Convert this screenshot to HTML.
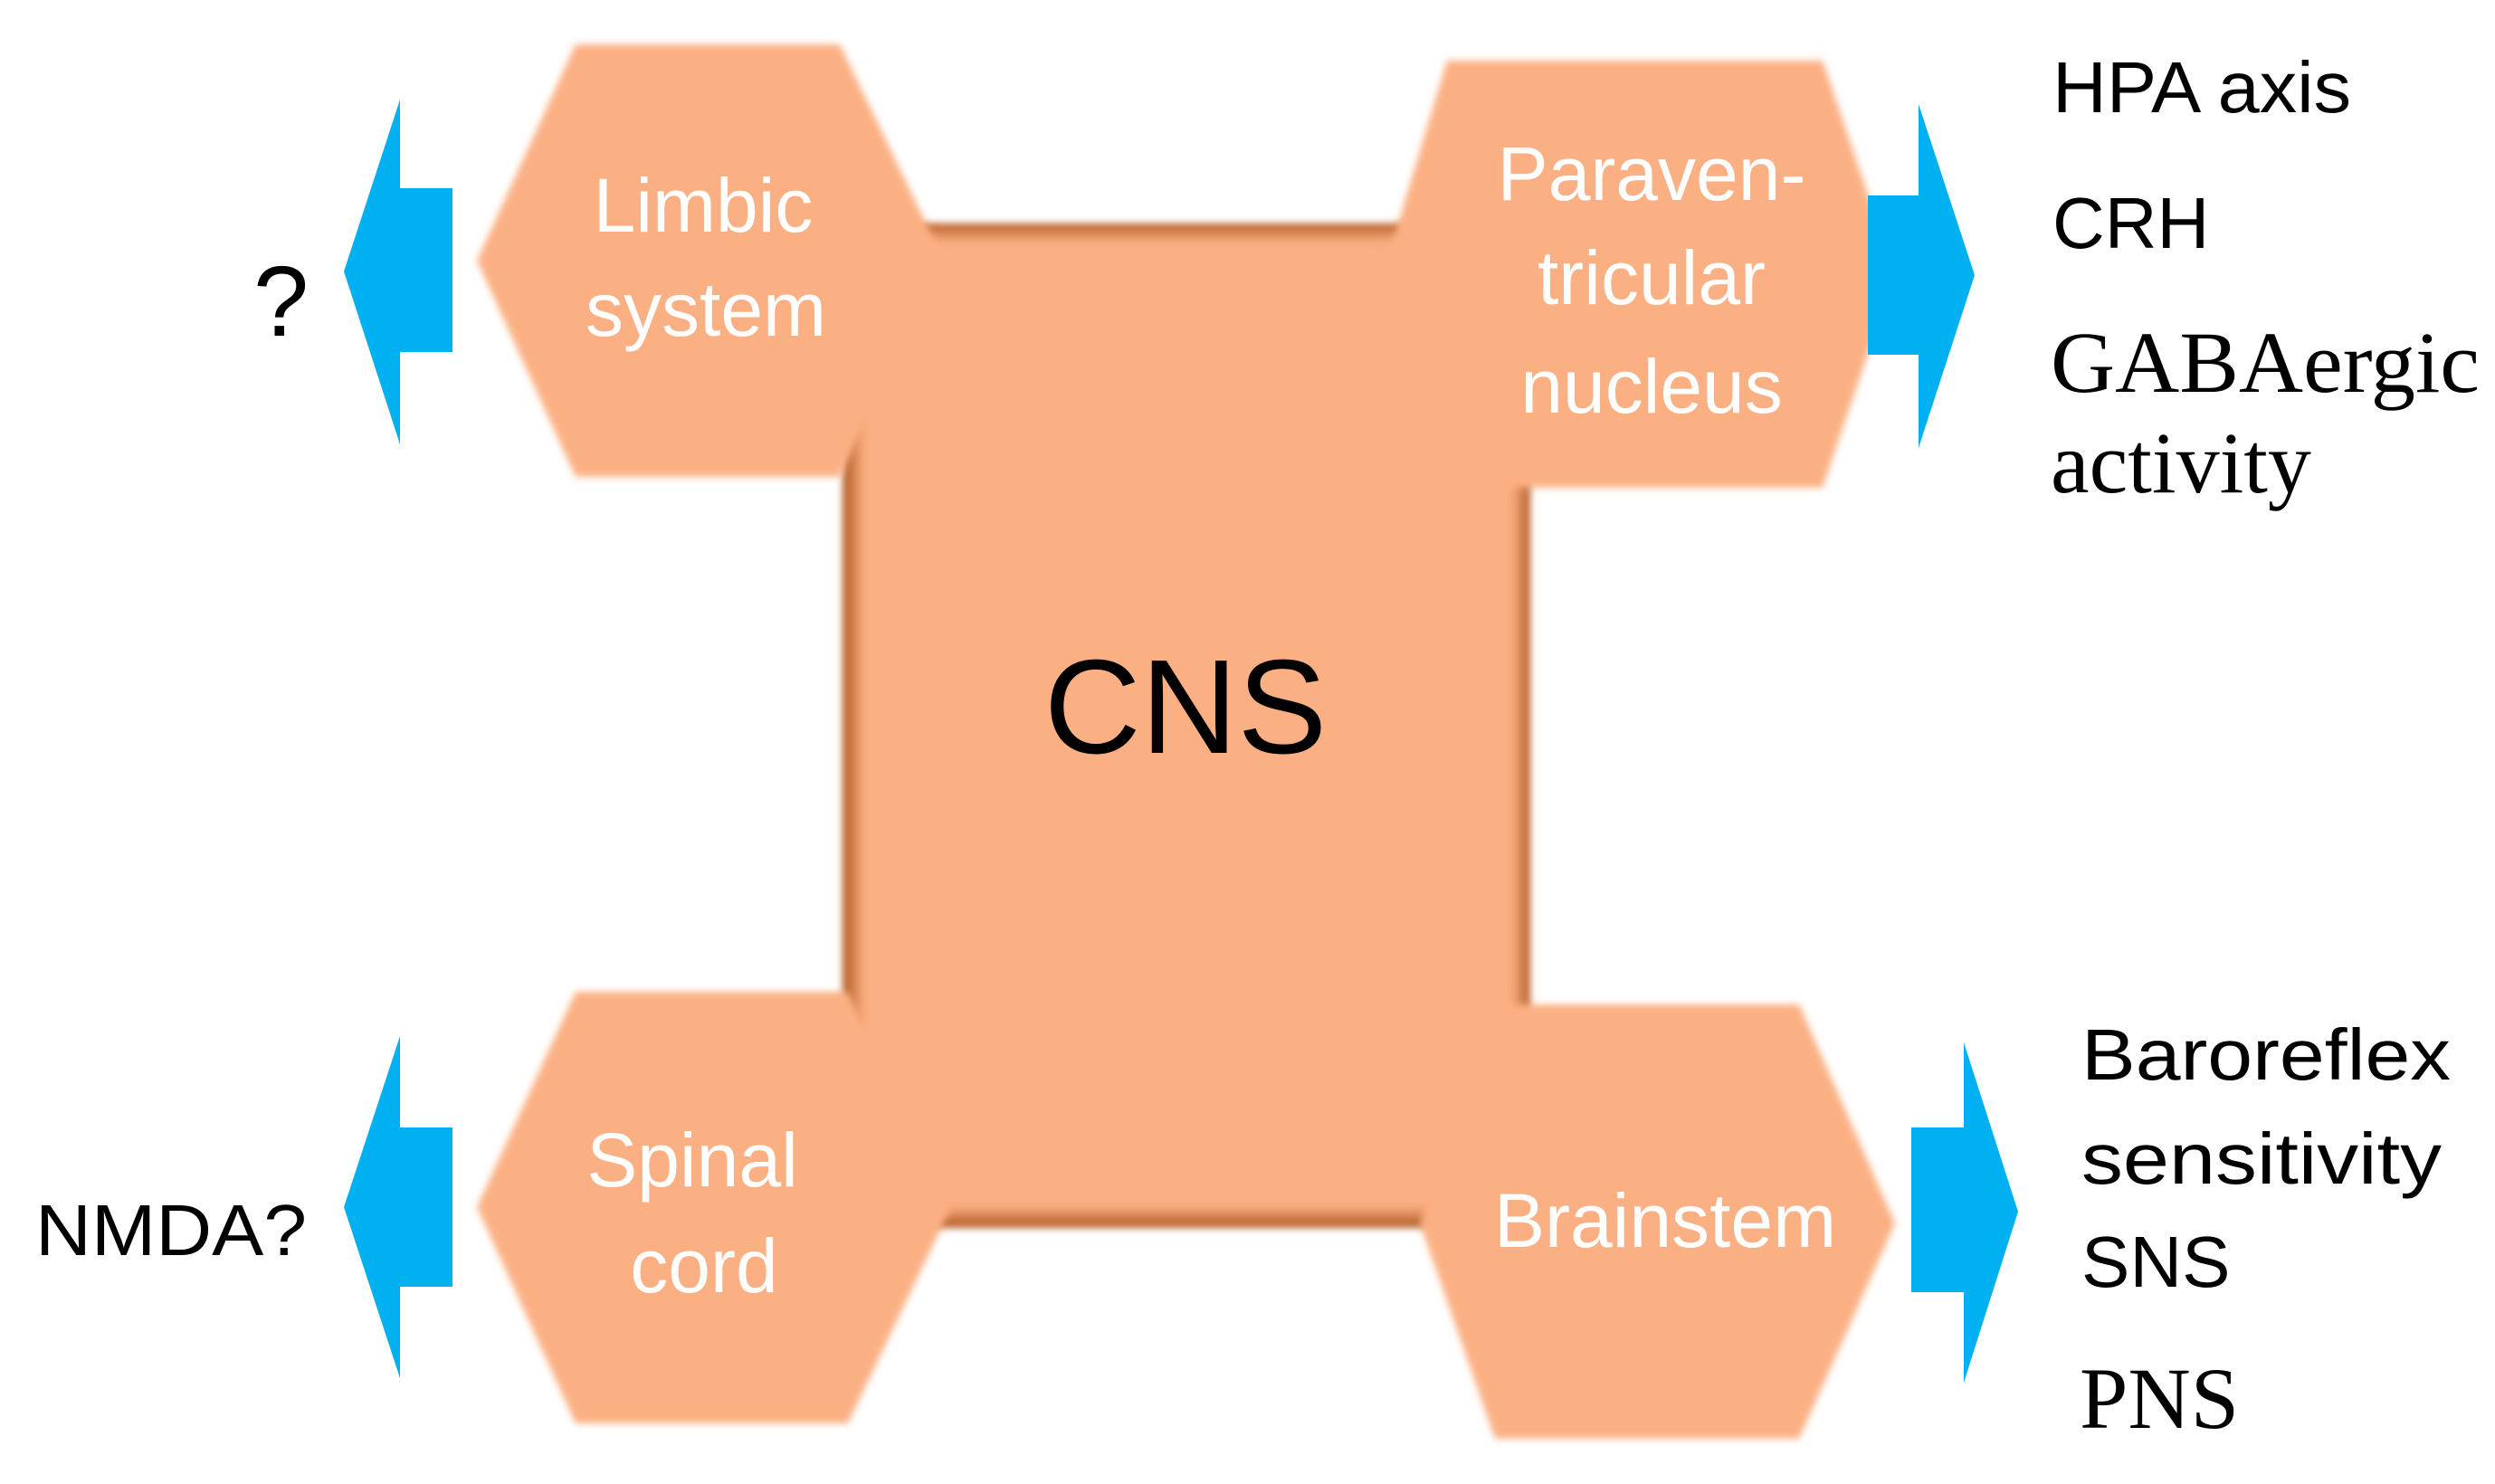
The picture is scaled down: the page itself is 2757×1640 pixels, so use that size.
<!DOCTYPE html>
<html><head><meta charset="utf-8"><style>html,body{margin:0;padding:0;background:#fff}svg{display:block}</style></head>
<body>
<svg width="2757" height="1640" viewBox="0 0 2757 1640" xmlns="http://www.w3.org/2000/svg">
<defs>
<filter id="b" x="-5%" y="-5%" width="110%" height="110%"><feGaussianBlur stdDeviation="4"/></filter>
<filter id="b2" x="-5%" y="-5%" width="110%" height="110%"><feGaussianBlur stdDeviation="8"/></filter>
</defs>
<rect width="2757" height="1640" fill="#fff"/>
<rect x="931" y="247" width="760" height="1110" fill="#b8602c" filter="url(#b)"/>
<rect x="945" y="258" width="735" height="1085" fill="#fbb083" filter="url(#b2)"/>
<g fill="#fbb083" filter="url(#b)">
<polygon points="636,49 928,49 1043,288 928,527 636,527 527,288"/>
<polygon points="1599,67 2014,67 2094,303 2014,539 1599,539 1528,303"/>
<polygon points="636,1096 937,1096 1051,1334 937,1573 636,1573 527,1334"/>
<polygon points="1652,1110 1988,1110 2094,1352 1988,1590 1652,1590 1569,1352"/>
</g>
<g fill="#00b0f0">
<polygon points="380,300 442,110 442,208 500,208 500,389 442,389 442,491"/>
<polygon points="380,1334 442,1145 442,1246 500,1246 500,1422 442,1422 442,1523"/>
<polygon points="2182,304 2120,115 2120,216 2064,216 2064,392 2120,392 2120,495"/>
<polygon points="2230,1339 2170,1152 2170,1246 2112,1246 2112,1428 2170,1428 2170,1528"/>
</g>
<text x="1310" y="832" font-family="Liberation Sans, sans-serif" font-size="148" text-anchor="middle" fill="#000">CNS</text>
<g font-family="Liberation Sans, sans-serif" font-size="84" fill="#fff" text-anchor="middle">
<text x="777" y="256">Limbic</text>
<text x="780" y="371">system</text>
<text x="1825" y="221">Paraven-</text>
<text x="1825" y="336">tricular</text>
<text x="1825" y="456">nucleus</text>
<text x="765" y="1311">Spinal</text>
<text x="778" y="1428">cord</text>
<text x="1840" y="1378">Brainstem</text>
</g>
<g font-family="Liberation Sans, sans-serif" font-size="80" fill="#000">
<text x="280" y="371" font-size="110">?</text>
<text x="39" y="1387" textLength="300" lengthAdjust="spacingAndGlyphs">NMDA?</text>
<text x="2268" y="124" textLength="330" lengthAdjust="spacingAndGlyphs">HPA axis</text>
<text x="2268" y="274">CRH</text>
<text x="2300" y="1193" textLength="408" lengthAdjust="spacingAndGlyphs">Baroreflex</text>
<text x="2300" y="1308" textLength="398" lengthAdjust="spacingAndGlyphs">sensitivity</text>
<text x="2300" y="1422">SNS</text>
</g>
<g font-family="Liberation Serif, serif" font-size="96" fill="#000">
<text x="2266" y="433" textLength="474" lengthAdjust="spacingAndGlyphs">GABAergic</text>
<text x="2266" y="544">activity</text>
<text x="2298" y="1578">PNS</text>
</g>
</svg>
</body></html>
